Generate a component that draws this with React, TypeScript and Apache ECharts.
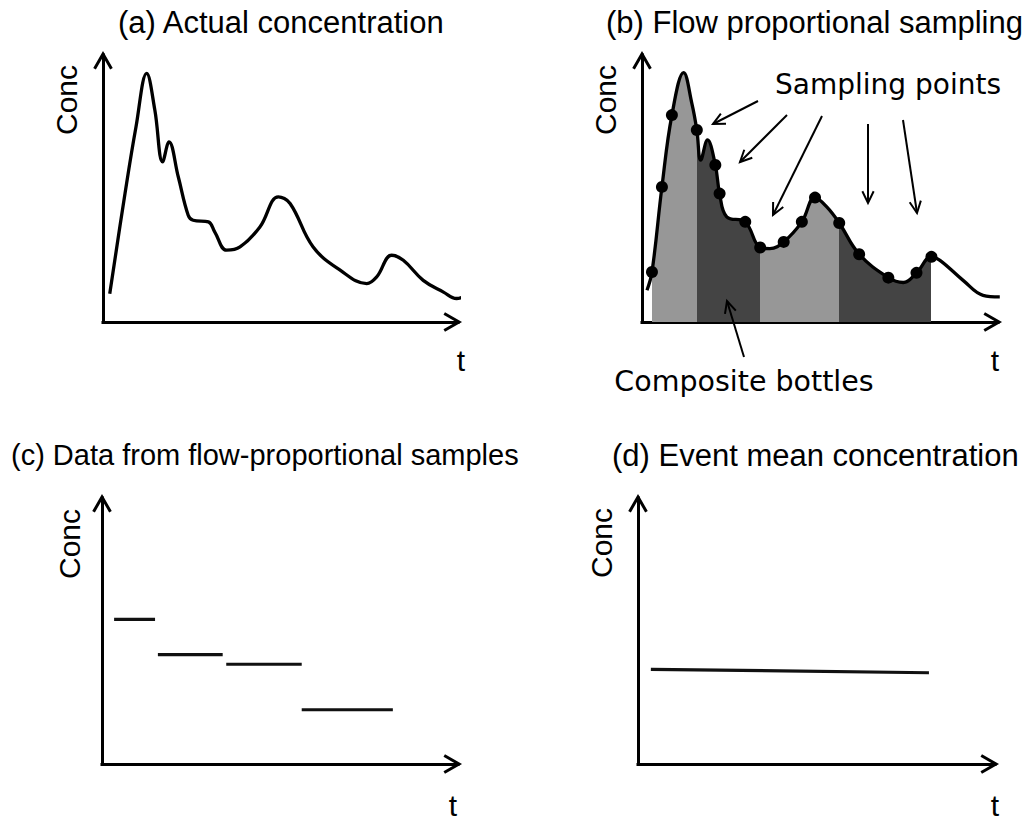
import React, { useEffect, useRef } from 'react';
import * as echarts from 'echarts';

// ---------- data (t: 0..100 along time axis, conc: 0..100 along Conc axis) ----------
const curveA: [number, number][] = [
  [1.9, 10.6], [6.2, 48.1], [9.3, 73.1], [12.3, 93.1], [14.6, 79.4], [16.8, 60.0],
  [18.6, 67.5], [21.2, 54.4], [24.0, 40.0], [25.4, 38.1], [29.7, 37.5], [31.5, 33.7],
  [34.8, 26.9], [38.6, 28.1], [44.2, 35.6], [49.4, 46.9], [52.7, 44.4], [59.2, 28.1],
  [66.8, 19.4], [74.3, 14.4], [77.1, 16.9], [81.3, 25.0], [84.6, 23.1], [90.2, 15.6],
  [95.9, 11.2], [99.6, 8.8], [101.5, 9.4],
];

const curveBShape: [number, number][] = [
  [1.4, 11.9], [11.7, 93.4], [14.0, 81.9], [16.5, 60.6], [18.4, 68.2], [23.8, 39.4],
  [35.9, 27.5], [51.9, 43.1], [73.4, 14.8], [83.7, 23.1], [90.2, 15.6], [95.8, 10.0],
  [100.5, 9.4],
];

const samplingPoints: [number, number][] = [
  [2.8, 18.7], [5.6, 50.6], [8.4, 77.5], [15.4, 71.9], [20.6, 58.8], [21.8, 48.1],
  [29.0, 37.5], [33.2, 27.9], [39.8, 30.0], [44.9, 37.5], [48.6, 46.6], [55.4, 37.1],
  [61.0, 25.4], [69.2, 16.6], [77.1, 18.4], [81.3, 24.4],
];

const bottleBounds = [2.8, 15.4, 33.2, 55.4, 81.3];
const bottleShades = ['#979797', '#444444', '#979797', '#444444'];

const compositeStart = [3.4, 15.7, 34.9, 56.1];
const compositeEnd = [14.9, 33.9, 56.1, 81.7];
const compositeConc = [54.4, 41.1, 37.5, 20.4];

const emcLine: [number, number][] = [[3.6, 35.6], [81.5, 34.3]];

const panelTitles = [
  '(a) Actual concentration',
  '(b) Flow proportional sampling',
  '(c) Data from flow-proportional samples',
  '(d) Event mean concentration',
];
const yName = 'Conc';
const xName = 't';
const samplingLabel = 'Sampling points';
const bottleLabel = 'Composite bottles';

// ---------- layout ----------
const panels = [
  { ox: 103, oy: 322, tx: 458, ty: 55 },
  { ox: 642, oy: 322, tx: 998, ty: 55 },
  { ox: 102, oy: 764, tx: 458, ty: 498 },
  { ox: 638, oy: 764, tx: 995, ty: 498 },
];
const titlePos = [
  { x: 118, y: 22, size: 31 },
  { x: 606, y: 22, size: 31 },
  { x: 11, y: 455, size: 29 },
  { x: 612, y: 455, size: 31 },
];
const concPos = [[66, 100], [605, 100], [69, 544], [601, 543]];
const tPos = [[461, 360], [995, 360], [453, 805], [995, 805]];
const annotArrows = [
  [758, 101, 713, 124],
  [787, 115, 740, 162],
  [822, 116, 773, 215],
  [868, 124, 868, 203],
  [903, 120, 917, 213],
  [744, 357, 727, 301],
];

const SANS = 'Arial, Liberation Sans, Helvetica, sans-serif';
const HAND = 'Comic Sans MS, DejaVu Sans, sans-serif';

function head(x1: number, y1: number, x2: number, y2: number, len: number, ang: number) {
  const a = Math.atan2(y2 - y1, x2 - x1);
  return [
    [x2 - len * Math.cos(a - ang), y2 - len * Math.sin(a - ang)],
    [x2, y2],
    [x2 - len * Math.cos(a + ang), y2 - len * Math.sin(a + ang)],
  ];
}

export default function App() {
  const ref = useRef<HTMLDivElement>(null);
  useEffect(() => {
    if (!ref.current) return;
    const chart = echarts.init(ref.current, undefined, { renderer: 'svg' });

    const axisCommon = {
      type: 'value',
      min: 0,
      max: 100,
      axisLine: { show: true, lineStyle: { color: '#000', width: 3, cap: 'square' } },
      axisTick: { show: false },
      axisLabel: { show: false },
      splitLine: { show: false },
    };

    const curveB = [...curveBShape, ...samplingPoints].sort((a, b) => a[0] - b[0]);

    const pieces: any[] = [{ lt: bottleBounds[0], color: 'rgba(0,0,0,0)' }];
    for (let i = 0; i < bottleShades.length; i++) {
      pieces.push({ gte: bottleBounds[i], lt: bottleBounds[i + 1], color: bottleShades[i] });
    }
    pieces.push({ gte: bottleBounds[bottleBounds.length - 1], color: 'rgba(0,0,0,0)' });

    const series: any[] = [
      {
        type: 'line', xAxisIndex: 0, yAxisIndex: 0, data: curveA, smooth: 0.4,
        showSymbol: false, clip: false, lineStyle: { color: '#000', width: 3.3 }, z: 3,
      },
      {
        type: 'line', xAxisIndex: 1, yAxisIndex: 1, data: curveB, smooth: 0.4,
        showSymbol: false, clip: false, lineStyle: { width: 0 }, areaStyle: { opacity: 1 }, z: 1,
      },
      {
        type: 'line', xAxisIndex: 1, yAxisIndex: 1, data: curveB, smooth: 0.4,
        showSymbol: false, clip: false, lineStyle: { color: '#000', width: 3.3 }, z: 3,
      },
      {
        type: 'scatter', xAxisIndex: 1, yAxisIndex: 1, data: samplingPoints,
        symbolSize: 12, itemStyle: { color: '#000', opacity: 1 }, z: 4,
      },
    ];
    compositeStart.forEach((s, i) => {
      series.push({
        type: 'line', xAxisIndex: 2, yAxisIndex: 2, showSymbol: false,
        data: [[s, compositeConc[i]], [compositeEnd[i], compositeConc[i]]],
        lineStyle: { color: '#111', width: 3.2 },
      });
    });
    series.push({
      type: 'line', xAxisIndex: 3, yAxisIndex: 3, showSymbol: false, data: emcLine,
      lineStyle: { color: '#111', width: 3.2 },
    });

    const graphic: any[] = [];
    panels.forEach((p, i) => {
      graphic.push({
        type: 'polyline', shape: { points: head(p.ox, p.oy, p.tx + 1, p.oy, 17, 0.52) },
        style: { stroke: '#000', lineWidth: 3, fill: null, lineJoin: 'miter' }, z: 10,
      });
      graphic.push({
        type: 'polyline', shape: { points: head(p.ox, p.oy, p.ox, p.ty - 1, 17, 0.52) },
        style: { stroke: '#000', lineWidth: 3, fill: null, lineJoin: 'miter' }, z: 10,
      });
      graphic.push({
        type: 'text', x: titlePos[i].x, y: titlePos[i].y, z: 10,
        style: {
          text: panelTitles[i], fontSize: titlePos[i].size, fontFamily: SANS, fill: '#000',
          align: 'left', verticalAlign: 'middle',
        },
      });
      graphic.push({
        type: 'text', x: concPos[i][0], y: concPos[i][1], rotation: Math.PI / 2, z: 10,
        style: {
          text: yName, fontSize: 30, fontFamily: SANS, fill: '#000',
          align: 'center', verticalAlign: 'middle',
        },
      });
      graphic.push({
        type: 'text', x: tPos[i][0], y: tPos[i][1], z: 10,
        style: {
          text: xName, fontSize: 30, fontFamily: SANS, fill: '#000',
          align: 'center', verticalAlign: 'middle',
        },
      });
    });
    annotArrows.forEach(([x1, y1, x2, y2]) => {
      graphic.push({
        type: 'line', shape: { x1, y1, x2, y2 }, z: 10,
        style: { stroke: '#000', lineWidth: 2 },
      });
      graphic.push({
        type: 'polyline', shape: { points: head(x1, y1, x2, y2, 13, 0.45) }, z: 10,
        style: { stroke: '#000', lineWidth: 2, fill: null },
      });
    });
    graphic.push({
      type: 'text', x: 888, y: 84, z: 10,
      style: {
        text: samplingLabel, fontSize: 28, fontFamily: HAND, fill: '#000',
        align: 'center', verticalAlign: 'middle',
      },
    });
    graphic.push({
      type: 'text', x: 744, y: 381, z: 10,
      style: {
        text: bottleLabel, fontSize: 28.5, fontFamily: HAND, fill: '#000',
        align: 'center', verticalAlign: 'middle',
      },
    });

    chart.setOption({
      animation: false,
      backgroundColor: '#fff',
      grid: panels.map((p) => ({
        left: p.ox, top: p.ty, width: p.tx - p.ox, height: p.oy - p.ty, containLabel: false,
      })),
      xAxis: panels.map((_, i) => ({ ...axisCommon, gridIndex: i })),
      yAxis: panels.map((_, i) => ({ ...axisCommon, gridIndex: i })),
      visualMap: [
        { type: 'piecewise', show: false, dimension: 0, seriesIndex: 1, pieces },
      ],
      series,
      graphic,
    });

    return () => chart.dispose();
  }, []);

  return (
    <div
      ref={ref}
      style={{ position: 'absolute', left: 0, top: 0, width: 1032, height: 823, background: '#fff' }}
    />
  );
}
